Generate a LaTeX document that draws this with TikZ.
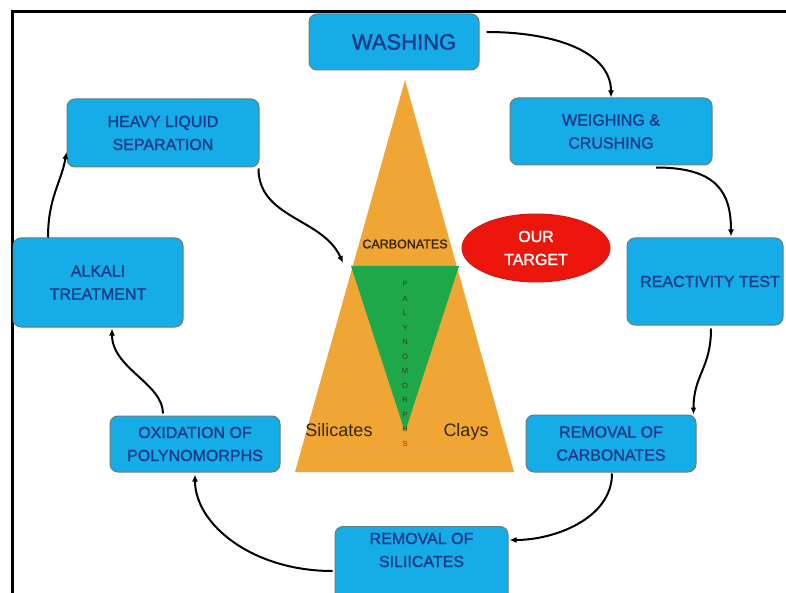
\documentclass[tikz,border=0pt]{standalone}
\usepackage{fontspec}
\setmainfont{Liberation Sans}
\newfontfamily\stepfont[FakeBold=1.6]{Liberation Sans}
\usetikzlibrary{arrows.meta,shapes.geometric}
\definecolor{boxblue}{RGB}{22,172,232}
\definecolor{boxedge}{RGB}{105,125,120}
\definecolor{boxtext}{RGB}{30,60,138}
\definecolor{tripale}{RGB}{240,166,52}
\definecolor{trigreen}{RGB}{30,168,74}
\definecolor{labeldark}{RGB}{55,38,12}
\definecolor{targetred}{RGB}{236,22,12}
\definecolor{targetedge}{RGB}{196,30,24}
\newcommand{\flowarrow}[4]{
    \draw[arr] (#1) .. controls +(#2) and +(#3) .. (#4);
}

\begin{document}
\begin{tikzpicture}[x=1pt,y=-1pt,
        stepbox/.style={draw=boxedge, line width=1pt, fill=boxblue, rounded corners=8pt,
            inner sep=0pt, text=boxtext, align=center, font=\stepfont\fontsize{16}{23}\selectfont},
        boxlabel/.style={inner sep=0pt, text=boxtext, align=center, font=\stepfont\fontsize{16}{23}\selectfont},
        trilabel/.style={inner sep=0pt, text=labeldark, font=\fontsize{18}{20}\selectfont},
        arr/.style={line width=2pt, -{Latex[length=7pt,width=6pt]}}]
    \clip (0,0) rectangle (786,593);
    \fill[white] (0,0) rectangle (786,593);
    \draw[line width=3pt] (12,620) -- (12,12) -- (800,12);
    % triangle in the middle
    \coordinate (top) at (405,80);
    \coordinate (bl) at (295,472);
    \coordinate (br) at (514,472);
    \coordinate (gl) at (351,266);
    \coordinate (gr) at (459,266);
    \coordinate (gb) at (405,432);
    \fill[tripale] (top) -- (br) -- (bl) -- cycle;
    \fill[trigreen] (gl) -- (gr) -- (gb) -- cycle;
    \node[trilabel, font=\stepfont\fontsize{12.5}{14}\selectfont] (carbl) at (405,244) {CARBONATES};
    \node[trilabel] (silic) at (339,430) {Silicates};
    \node[trilabel] (clays) at (466,432) {Clays};
    \node[inner sep=0pt, align=center, text=labeldark!80!trigreen, font=\fontsize{7.5}{14.5}\selectfont] (paly) at (405,364)
        {P\\A\\L\\Y\\N\\O\\M\\O\\R\\P\\H\\{\color{targetred}S}};
    \node[ellipse, draw=targetedge, fill=targetred, line width=1pt, minimum width=148pt, minimum height=68pt,
        inner sep=0pt, text=white, align=center, font=\stepfont\fontsize{16}{23}\selectfont] (target) at (536,248) {OUR\\TARGET};
    % the steps
    \node[stepbox, minimum width=170pt, minimum height=56pt, font=\stepfont\fontsize{22}{26}\selectfont] (wash) at (394,42) {\hspace*{20pt}WASHING};
    \node[stepbox, minimum width=202pt, minimum height=67pt] (weigh) at (611,131.5) {WEIGHING \&\\CRUSHING};
    \node[stepbox, minimum width=156pt, minimum height=87pt] (react) at (705,281.5) {\hspace*{10pt}REACTIVITY TEST};
    \node[stepbox, minimum width=170pt, minimum height=57pt] (carb) at (611,443.5) {REMOVAL OF\\CARBONATES};
    \node[stepbox, minimum width=173pt, minimum height=84pt, anchor=north] (sil) at (421.5,526) {};
    \node[boxlabel] (silt) at (421.5,550) {REMOVAL OF\\SILIICATES};
    \node[stepbox, minimum width=170pt, minimum height=56pt] (oxid) at (195,444) {OXIDATION OF\\POLYNOMORPHS};
    \node[stepbox, minimum width=170pt, minimum height=89pt] (alk) at (98,282.5) {ALKALI\\TREATMENT};
    \node[stepbox, minimum width=192pt, minimum height=68pt] (heavy) at (163,133) {HEAVY LIQUID\\SEPARATION};
    % arrows round the cycle
    \flowarrow{[shift={(7,-10)}]wash.east}{70,0}{0,-45}{weigh.north}
    \flowarrow{[shift={(45,2)}]weigh.south}{60,0}{0,-45}{[shift={(26,-1)}]react.north}
    \flowarrow{[shift={(6,3)}]react.south}{0,40}{0,-40}{[shift={(-3,0)}]carb.north east}
    \flowarrow{[shift={(1,1)}]carb.south}{0,45}{45,0}{[shift={(1,14)}]sil.north east}
    \flowarrow{[shift={(-2,45)}]sil.north west}{-80,0}{0,50}{[shift={(0,2)}]oxid.south}
    \flowarrow{[shift={(-32,-2)}]oxid.north}{0,-30}{0,40}{[shift={(14,1)}]alk.south}
    \flowarrow{[shift={(-50,0)}]alk.north}{0,-40}{-5,30}{[shift={(0,19)}]heavy.west}
    \flowarrow{[shift={(-1,1)}]heavy.south east}{0,50}{-20,-45}{[shift={(-8,-3)}]gl}
\end{tikzpicture}
\end{document}
